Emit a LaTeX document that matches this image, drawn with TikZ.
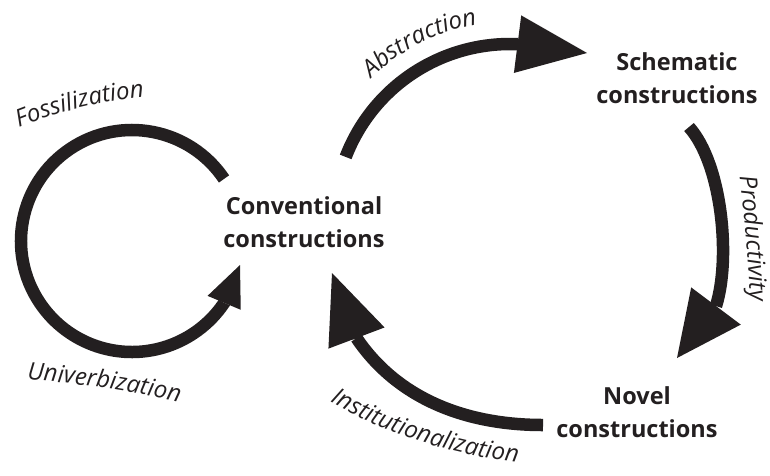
\documentclass[tikz,border=0pt]{standalone}
\usepackage{fontspec}
\setmainfont{Open Sans}
\usetikzlibrary{arrows.meta,calc,decorations.text}
\definecolor{ink}{HTML}{231F20}
\newcommand\labelfont{\fontsize{24pt}{28pt}\selectfont\itshape}

\begin{document}
\begin{tikzpicture}[x=1pt,y=-1pt,
  stage/.style={align=center, text=ink, inner sep=0pt,
    font=\fontsize{23.5pt}{33pt}\selectfont\bfseries},
  flow/.style={draw=ink, line width=12.5pt},
  alongtext/.style={decorate, decoration={text along path,
    text align=center, text color=ink, text={|\labelfont|#1}}}]

\useasboundingbox (0,0) rectangle (770,475);

% the three kinds of constructions
\node[stage] (conv) at (304,222) {Conventional\\constructions};
\node[stage] (schem) at (677,78) {Schematic\\constructions};
\node[stage] (novel) at (637,412) {Novel\\constructions};

% reference points of the curved arrows
\coordinate (loopC) at (132,241);
\coordinate (fossTip) at (240,265);
\coordinate (absC) at (510,220);
\coordinate (absTip) at (587,53);
\coordinate (prodStart) at (689,127);
\coordinate (prodBack) at (716,306);
\coordinate (prodTip) at (677,358);
\coordinate (instStart) at (543,425);
\coordinate (instBack) at (356.5,338);
\coordinate (instTip) at (332,273);

% fossilization / univerbization loop
\draw[flow, -{Triangle[length=41pt,width=36pt,line width=0pt]}]
  ($(loopC)+(-34:111)$) arc[start angle=-34, end angle=-326, radius=111]
  -- (fossTip);

% abstraction
\draw[flow, -{Triangle[length=70pt,width=58pt,line width=0pt]}]
  ($(absC)+(-159:176)$) arc[start angle=-159, end angle=-87.5, radius=176]
  -- (absTip);

% productivity
\draw[flow, -{Triangle[length=65pt,width=62pt,line width=0pt]}]
  (prodStart) .. controls (722,164) and (731,258) .. (prodBack) -- (prodTip);

% institutionalization
\draw[flow, -{Triangle[length=69.5pt,width=60pt,line width=0pt]}]
  (instStart) .. controls (460,425) and (395,395) .. (instBack) -- (instTip);

% labels set along the arrows
\path[alongtext=Fossilization]
  (8,132) .. controls (50,114) and (100,100) .. (156,96);
\path[alongtext=Univerbization]
  (14,379) .. controls (70,382) and (130,390) .. (192,405);
\path[alongtext=Abstraction]
  ($(absC)+(-148:198)$) arc[start angle=-148, end angle=-86, radius=198];
\path[alongtext=Productivity]
  (737,156) .. controls (744,210) and (749,262) .. (751,322);
\path[alongtext=Institutionalization]
  (314,392) .. controls (376,432) and (450,456) .. (536,465);

\end{tikzpicture}
\end{document}
